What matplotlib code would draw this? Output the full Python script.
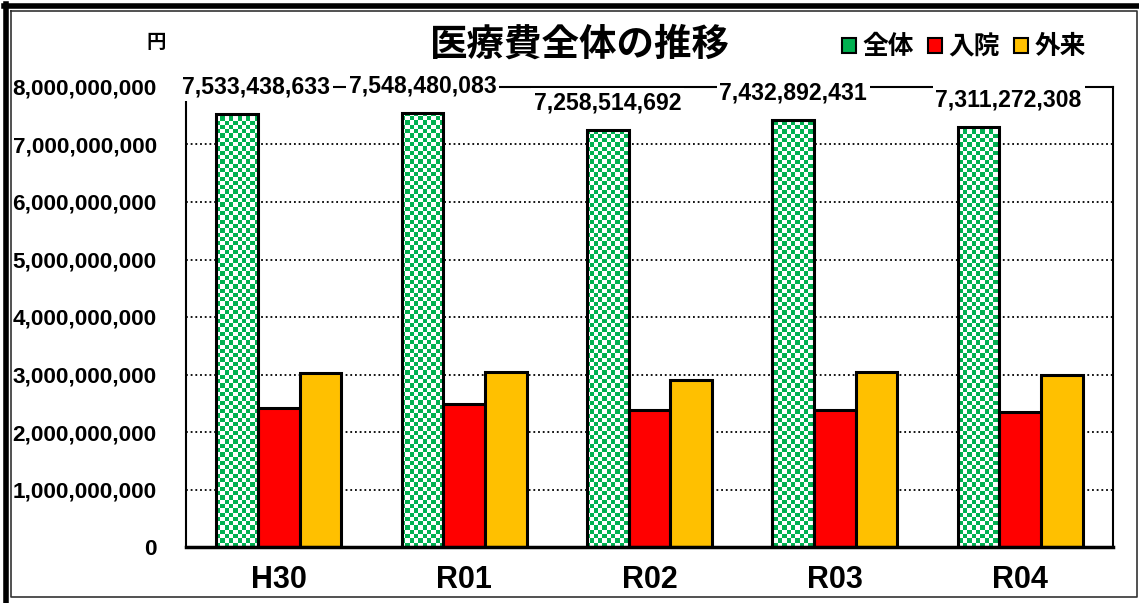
import numpy as np
import matplotlib
matplotlib.use('Agg')
import matplotlib.pyplot as plt
from matplotlib.colors import ListedColormap
from matplotlib.patches import Patch
from matplotlib.lines import Line2D

years = ['H30', 'R01', 'R02', 'R03', 'R04']
total = [7533438633, 7548480083, 7258514692, 7432892431, 7311272308]
inpatient = [2.42e9, 2.48e9, 2.38e9, 2.38e9, 2.35e9]
outpatient = [3.02e9, 3.04e9, 2.90e9, 3.04e9, 3.00e9]
yticks = np.arange(0, 9e9, 1e9)

jp = ['Noto Sans CJK JP', 'DejaVu Sans']
plt.rcParams['font.family'] = ['Liberation Sans', 'Noto Sans CJK JP', 'DejaVu Sans']
plt.rcParams['font.weight'] = 'bold'

green = '#00B050'
red = '#FF0000'
yellow = '#FFC000'

fig = plt.figure(figsize=(11.39, 6.03), dpi=100)
ax = fig.add_axes([186/1139, 1-547/603, (1113-186)/1139, (547-87)/603])

x = np.arange(len(years))
w = 0.225
b_tot = ax.bar(x - w, total, w, facecolor='white', edgecolor='none', zorder=2)
ax.bar(x, inpatient, w, facecolor=red, edgecolor='black', lw=2.2, zorder=3)
ax.bar(x + w, outpatient, w, facecolor=yellow, edgecolor='black', lw=2.2, zorder=3)

# checker pattern inside the total bars
nc, nr = 216, 107
chk = (np.add.outer(np.arange(nr), np.arange(nc)) % 2)
cmap = ListedColormap(['white', green])
for bar in b_tot:
    im = ax.imshow(chk, cmap=cmap, extent=(-0.5, 4.5, 0, 8e9), aspect='auto',
                   interpolation='nearest', zorder=2.5)
    im.set_clip_path(bar)
ax.bar(x - w, total, w, fill=False, edgecolor='black', lw=2.2, zorder=3)

ax.set_xlim(-0.5, 4.5)
ax.set_ylim(0, 8e9)
ax.set_yticks(yticks)
ax.set_yticklabels([f'{int(v):,}' for v in yticks], fontsize=16.2)
ax.set_xticks(x)
ax.set_xticklabels(years, fontsize=22)
ax.tick_params(axis='y', length=0, pad=21)
ax.tick_params(axis='x', length=0, pad=13)
ax.grid(axis='y', color='black', linestyle=(0, (1, 1.6)), lw=1.3, zorder=1)
ax.set_axisbelow(True)
for s in ['left', 'right', 'top']:
    ax.spines[s].set_linewidth(1.5)
ax.spines['bottom'].set_linewidth(2.5)
ax.spines['bottom'].set_zorder(4)

# data labels of total
dx = [19, 0, 0, 0, 30]
for i, v in enumerate(total):
    ax.annotate(f'{v:,}', (x[i] - w, v), xytext=(dx[i]*0.72, 19.5),
                textcoords='offset points', ha='center', va='center',
                fontsize=16.6, zorder=5, annotation_clip=False,
                bbox=dict(facecolor='white', edgecolor='none', pad=2))

fig.text(580/1139, 1-44/603, '医療費全体の推移', family=jp, fontsize=27,
         weight='bold', ha='center', va='center')
fig.text(156/1139, 1-42/603, '円', family=jp, fontsize=14, weight='bold',
         ha='center', va='center')

leg_green = Patch(facecolor=green, edgecolor='black', lw=1.5, hatch='xx')
try:
    leg_green.set_hatchcolor('white')
except Exception:
    leg_green = Patch(facecolor=green, edgecolor='black', lw=1.5)
handles = [leg_green,
           Patch(facecolor=red, edgecolor='black', lw=1.5),
           Patch(facecolor=yellow, edgecolor='black', lw=1.5)]
leg = fig.legend(handles, ['全体', '入院', '外来'], loc='center',
                 bbox_to_anchor=(964/1139, 1-47/603), ncol=3, frameon=False,
                 prop={'family': jp, 'size': 18.5, 'weight': 'bold'},
                 handlelength=0.55, handleheight=0.55, handletextpad=0.25,
                 columnspacing=0.55)

# outer frame
fig.add_artist(Line2D([6/1139, 6/1139], [0, 1-4/603], color='black', lw=4))
fig.add_artist(Line2D([4/1139, 1], [1-6/603, 1-6/603], color='black', lw=4))
fig.add_artist(Line2D([10.5/1139, 1137/1139, 1137/1139, 10.5/1139, 10.5/1139],
                      [1-10.5/603, 1-10.5/603, 1-597/603, 1-597/603, 1-10.5/603],
                      color='#333333', lw=1.2))

fig.savefig('out.png', dpi=100)
